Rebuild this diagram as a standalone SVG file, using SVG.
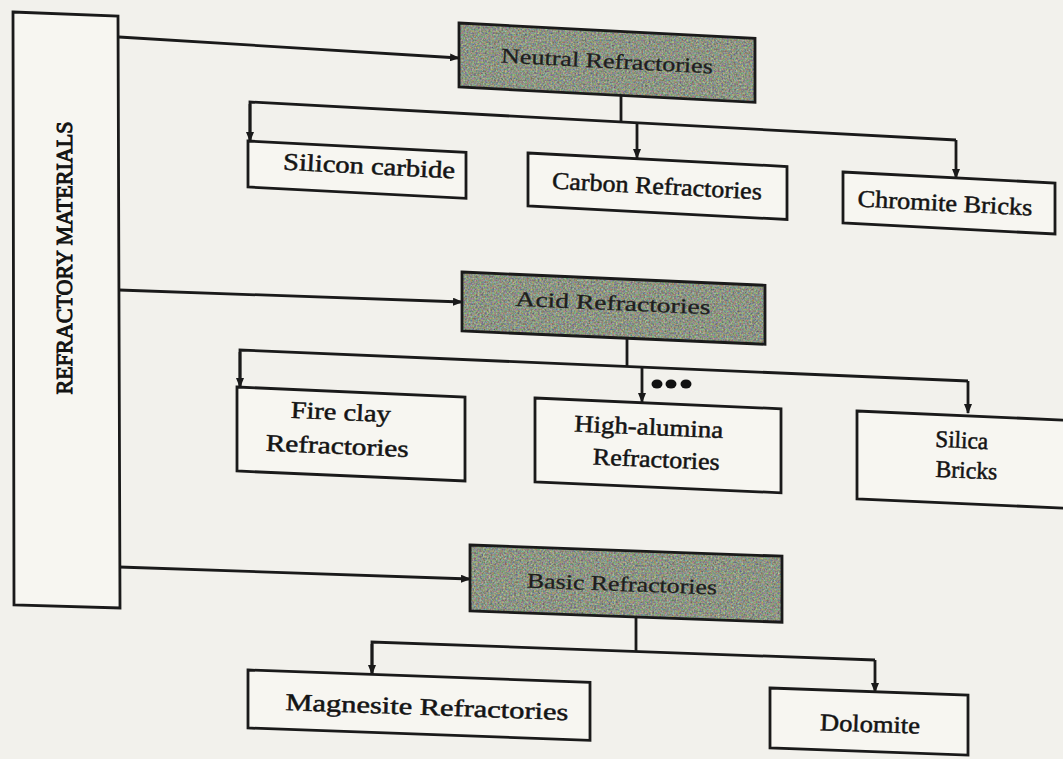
<svg xmlns="http://www.w3.org/2000/svg" width="1063" height="759" viewBox="0 0 1063 759">
<style>
.box{fill:#f7f6f1;stroke:#1a1a1a;stroke-width:2.8;stroke-linejoin:miter}
.dark{stroke:#1a1a1a;stroke-width:2.8;fill:none}
.tex{filter:url(#grain);fill:#808075}
.t{font-family:"Liberation Serif","DejaVu Serif",serif;font-size:24px;fill:#141414;text-anchor:middle;stroke:#141414;stroke-width:0.5}
.td{font-size:21px;fill:#1e1e1e;stroke:#1e1e1e;stroke-width:0.3}
.tv{font-size:23px;stroke-width:1}
.ln{stroke:#1a1a1a;stroke-width:2.8;fill:none}
.ar{marker-end:url(#ah)}
</style>
<defs>
<marker id="ah" markerUnits="userSpaceOnUse" markerWidth="10" markerHeight="8" refX="9" refY="4" orient="auto">
<path d="M0,0 L10,4 L0,8 z" fill="#1a1a1a"/>
</marker>
<filter id="grain" x="0" y="0" width="1" height="1" color-interpolation-filters="sRGB">
<feTurbulence type="fractalNoise" baseFrequency="0.55" numOctaves="2" seed="7" result="n"/>
<feColorMatrix in="n" type="matrix" values="0.6 0.1 0 0 0.2  0.1 0.6 0 0 0.23  0 0.1 0.55 0 0.19  0 0 0 0 1" result="c"/>
<feComposite in="c" in2="SourceGraphic" operator="in"/>
</filter>
</defs>
<rect width="1063" height="759" fill="#f2f1ec"/>

<g id="connectors">
<line class="ln ar" x1="119" y1="37" x2="459" y2="58"/>
<line class="ln ar" x1="119" y1="290" x2="462" y2="302"/>
<line class="ln ar" x1="119" y1="567" x2="470" y2="579"/>
<line class="ln" x1="621" y1="95" x2="621" y2="122"/>
<polyline class="ln" points="250,141 250,102 956,140"/>
<line class="ln ar" x1="250" y1="104" x2="250" y2="141"/>
<line class="ln ar" x1="637" y1="123" x2="637" y2="158"/>
<line class="ln ar" x1="956" y1="140" x2="956" y2="178"/>
<line class="ln" x1="627" y1="338" x2="627" y2="366"/>
<polyline class="ln" points="240,387 240,350 968,381"/>
<line class="ln ar" x1="240" y1="352" x2="240" y2="387"/>
<line class="ln ar" x1="642" y1="367" x2="642" y2="402"/>
<line class="ln ar" x1="968" y1="381" x2="968" y2="413"/>
<line class="ln" x1="636" y1="617" x2="636" y2="651"/>
<polyline class="ln" points="372,674 372,642 875,660"/>
<line class="ln ar" x1="372" y1="644" x2="372" y2="674"/>
<line class="ln ar" x1="875" y1="660" x2="875" y2="692"/>
<g fill="#111"><ellipse cx="657" cy="384" rx="5.5" ry="4.5"/><ellipse cx="671" cy="384" rx="5.5" ry="4.5"/><ellipse cx="686" cy="384" rx="5.5" ry="4.5"/></g>
</g>

<g id="refractory-materials">
<polygon class="box" points="13,12 118,16 120,608 14,605"/>
<text class="t tv" transform="translate(72,258) rotate(-90)" textLength="273" lengthAdjust="spacingAndGlyphs">REFRACTORY  MATERIALS</text>
</g>

<g id="neutral">
<polygon class="tex" points="459,23 755,38.4 755,102.4 459,87"/>
<polygon class="dark" points="459,23 755,38.4 755,102.4 459,87"/>
<text class="t td" x="607" y="68" transform="rotate(2.98 607 62)" textLength="212" lengthAdjust="spacingAndGlyphs">Neutral Refractories</text>
</g>
<g id="silicon-carbide">
<polygon class="box" points="248,141 466,152.3 466,198.3 248,187"/>
<text class="t" x="369" y="174" transform="rotate(2.98 369 168)" textLength="172" lengthAdjust="spacingAndGlyphs">Silicon carbide</text>
</g>
<g id="carbon">
<polygon class="box" points="528,153 787,166.5 787,219.5 528,206"/>
<text class="t" x="657" y="194" transform="rotate(2.98 657 187)" textLength="210" lengthAdjust="spacingAndGlyphs">Carbon Refractories</text>
</g>
<g id="chromite">
<polygon class="box" points="843,172 1055,183 1055,234 843,223"/>
<text class="t" x="945" y="211" transform="rotate(2.98 945 204)" textLength="175" lengthAdjust="spacingAndGlyphs">Chromite Bricks</text>
</g>

<g id="acid">
<polygon class="tex" points="462,272 765,285.3 765,344.3 462,331"/>
<polygon class="dark" points="462,272 765,285.3 765,344.3 462,331"/>
<text class="t td" x="613" y="310" transform="rotate(2.5 613 303)" textLength="195" lengthAdjust="spacingAndGlyphs">Acid Refractories</text>
</g>
<g id="fire-clay">
<polygon class="box" points="237,387 465,397 465,481 237,471"/>
<text class="t" x="340" y="420" transform="rotate(2.5 340 430)" textLength="100" lengthAdjust="spacingAndGlyphs">Fire clay</text>
<text class="t" x="338" y="454" transform="rotate(2.5 340 430)" textLength="143" lengthAdjust="spacingAndGlyphs">Refractories</text>
</g>
<g id="high-alumina">
<polygon class="box" points="535,398 781,408.8 781,492.8 535,482"/>
<text class="t" x="648" y="435" transform="rotate(2.5 652 445)" textLength="149" lengthAdjust="spacingAndGlyphs">High-alumina</text>
<text class="t" x="657" y="467" transform="rotate(2.5 652 445)" textLength="127" lengthAdjust="spacingAndGlyphs">Refractories</text>
</g>
<g id="silica">
<polygon class="box" points="857,411 1075,420.6 1075,508.6 857,499"/>
<text class="t" x="961" y="448" transform="rotate(2.5 963 458)" textLength="53" lengthAdjust="spacingAndGlyphs">Silica</text>
<text class="t" x="967" y="478" transform="rotate(2.5 963 458)" textLength="62" lengthAdjust="spacingAndGlyphs">Bricks</text>
</g>

<g id="basic">
<polygon class="tex" points="470,545 782,556.2 782,622.2 470,611"/>
<polygon class="dark" points="470,545 782,556.2 782,622.2 470,611"/>
<text class="t td" x="622" y="591" transform="rotate(2.06 622 584)" textLength="190" lengthAdjust="spacingAndGlyphs">Basic Refractories</text>
</g>
<g id="magnesite">
<polygon class="box" points="248,670 590,682.3 590,740.3 248,728"/>
<text class="t" x="427" y="715" transform="rotate(2.06 427 708)" textLength="283" lengthAdjust="spacingAndGlyphs">Magnesite Refractories</text>
</g>
<g id="dolomite">
<polygon class="box" points="770,688 968,695.1 968,755.1 770,748"/>
<text class="t" x="870" y="732" transform="rotate(2.06 870 725)" textLength="100" lengthAdjust="spacingAndGlyphs">Dolomite</text>
</g>
</svg>
